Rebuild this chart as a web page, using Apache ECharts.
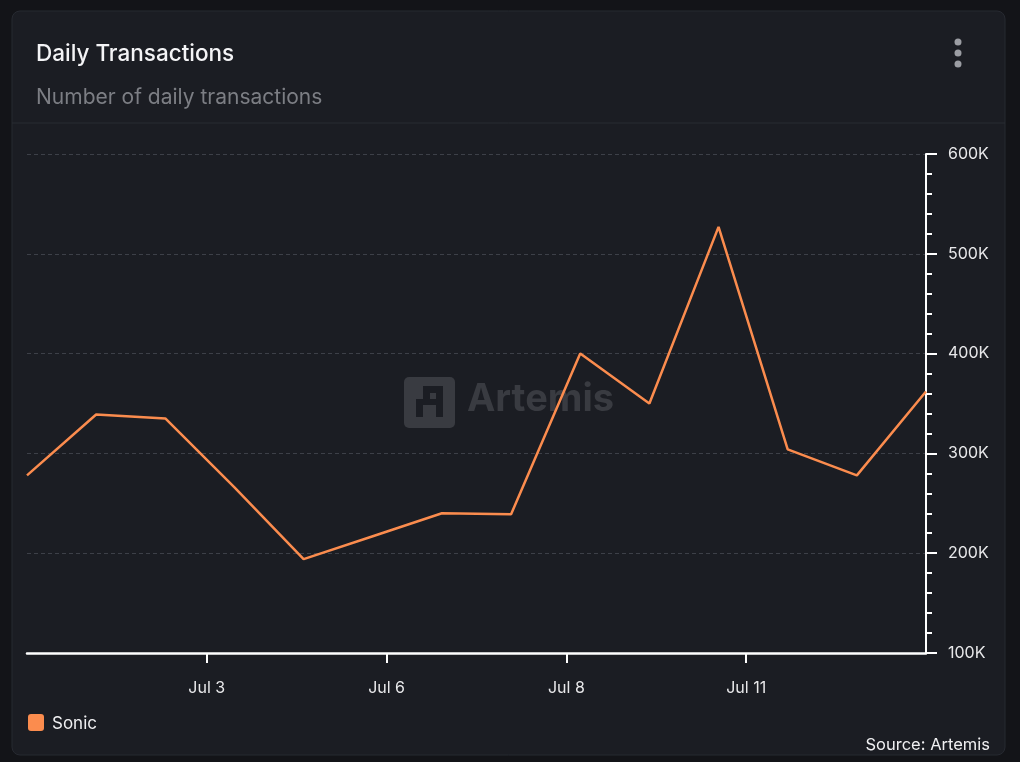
<!DOCTYPE html>
<html>
<head>
<meta charset="utf-8">
<script src="https://cdn.jsdelivr.net/npm/echarts@6/dist/echarts.min.js"></script>
<style>
html,body{margin:0;padding:0;background:#131418;}
#chart{width:1020px;height:762px;}
</style>
</head>
<body>
<div id="chart"></div>
<script>
// Data
var pointIndex = [0,1,2,3,4,5,6,7,8,9,10,11,12,13];
var sonicValues = [278000,339000,335000,266000,194000,217000,240000,239000,400000,350000,527000,304000,278000,362000];
var tickPositions = [2.6,5.2,7.8,10.4];
var tickLabels = ['Jul 3','Jul 6','Jul 8','Jul 11'];

var seriesData = pointIndex.map(function(x,i){return [x, sonicValues[i]];});
var labelMap = {};
tickPositions.forEach(function(p,i){labelMap[p.toFixed(1)] = tickLabels[i];});

var chart = echarts.init(document.getElementById('chart'));
var wmColor = '#393b41';
chart.setOption({
  backgroundColor: '#131418',
  animation: false,
  textStyle: {fontFamily: 'Inter'},
  grid: {left: 27, right: 94, top: 154, bottom: 109, containLabel: false},
  xAxis: {
    type: 'value', min: 0, max: 13,
    axisLine: {show: true, onZero: false, lineStyle: {color: '#ffffff', width: 2.5}},
    axisTick: {show: true, customValues: tickPositions, length: 10, lineStyle: {color: '#ffffff', width: 2}},
    axisLabel: {show: true, customValues: tickPositions, color: '#e8e8ea', fontSize: 16, margin: 27,
      formatter: function(v){ return labelMap[(+v).toFixed(1)] || ''; }},
    splitLine: {show: false}
  },
  yAxis: {
    type: 'value', position: 'right', min: 100000, max: 600000, interval: 100000,
    axisLine: {show: true, onZero: false, lineStyle: {color: '#ffffff', width: 2}},
    axisTick: {show: true, length: 11, lineStyle: {color: '#ffffff', width: 2}},
    minorTick: {show: true, splitNumber: 5, length: 6, lineStyle: {color: '#ffffff', width: 2}},
    axisLabel: {color: '#e8e8ea', fontSize: 16, margin: 22,
      formatter: function(v){ return (v/1000) + 'K'; }},
    splitLine: {show: true, lineStyle: {color: '#3d4048', type: [4,3], width: 1}}
  },
  series: [{
    name: 'Sonic', type: 'line', data: seriesData, showSymbol: false,
    lineStyle: {color: '#fb8c4e', width: 2.5}, itemStyle: {color: '#fb8c4e'}, z: 5
  }],
  graphic: [
    {type: 'rect', z: -10, shape: {x: 12, y: 11, width: 993, height: 744, r: 8},
      style: {fill: '#1b1d23', stroke: '#272a31', lineWidth: 1}},
    {type: 'line', z: -9, shape: {x1: 12, y1: 123, x2: 1005, y2: 123}, style: {stroke: '#292c33', lineWidth: 1}},
    {type: 'text', left: 36, top: 43, style: {text: 'Daily Transactions', fill: '#f4f4f6', font: '500 22.5px Inter'}},
    {type: 'text', left: 36, top: 87, style: {text: 'Number of daily transactions', fill: '#7c7e84', font: '400 21px Inter'}},
    {type: 'circle', shape: {cx: 958, cy: 42, r: 3.5}, style: {fill: '#9b9da3'}},
    {type: 'circle', shape: {cx: 958, cy: 53, r: 3.5}, style: {fill: '#9b9da3'}},
    {type: 'circle', shape: {cx: 958, cy: 64, r: 3.5}, style: {fill: '#9b9da3'}},
    // watermark
    {type: 'rect', z: 1, shape: {x: 404, y: 377, width: 51, height: 51, r: 5}, style: {fill: wmColor}},
    {type: 'rect', z: 2, shape: {x: 423, y: 386, width: 20, height: 7}, style: {fill: '#1b1d23'}},
    {type: 'rect', z: 2, shape: {x: 423, y: 386, width: 7, height: 13}, style: {fill: '#1b1d23'}},
    {type: 'rect', z: 2, shape: {x: 436, y: 386, width: 7, height: 31}, style: {fill: '#1b1d23'}},
    {type: 'rect', z: 2, shape: {x: 416, y: 399, width: 27, height: 6}, style: {fill: '#1b1d23'}},
    {type: 'rect', z: 2, shape: {x: 416, y: 399, width: 7, height: 18}, style: {fill: '#1b1d23'}},
    {type: 'text', z: 1, left: 467, top: 381, style: {text: 'Artemis', fill: wmColor, font: '700 38px Inter'}},
    // legend
    {type: 'rect', shape: {x: 28, y: 714, width: 16, height: 17, r: 3}, style: {fill: '#fb8c4e'}},
    {type: 'text', left: 52, top: 715, style: {text: 'Sonic', fill: '#f0f0f2', font: '400 17px Inter'}},
    {type: 'text', right: 30, top: 737, style: {text: 'Source: Artemis', fill: '#f0f0f2', font: '400 16.5px Inter'}}
  ]
});
</script>
</body>
</html>
